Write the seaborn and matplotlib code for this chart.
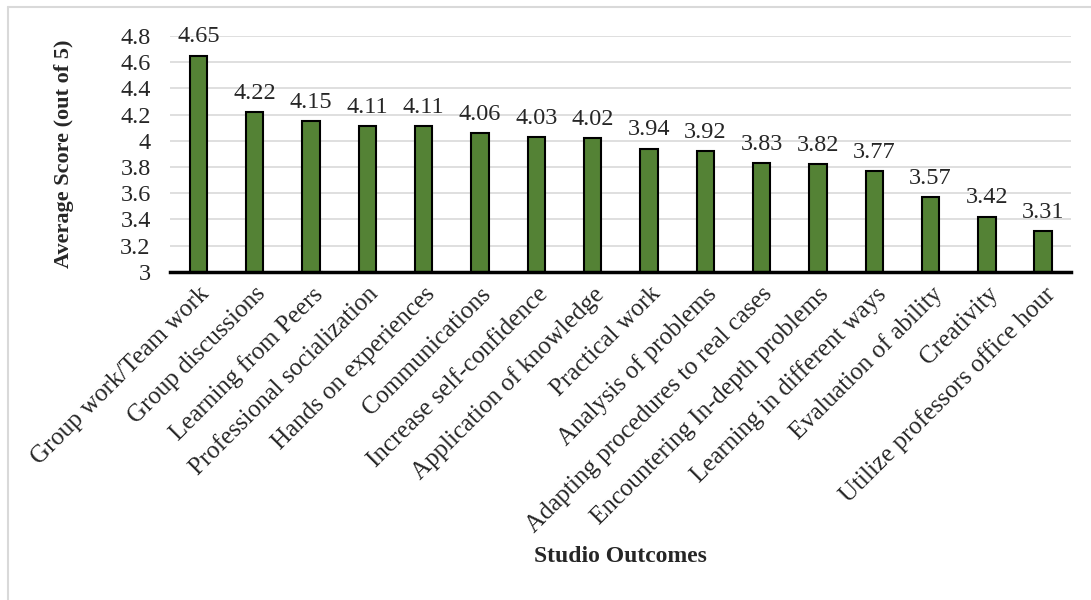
import matplotlib
matplotlib.use('Agg')
import matplotlib.pyplot as plt
import seaborn as sns
import pandas as pd

outcomes = ['Group work/Team work', 'Group discussions', 'Learning from Peers',
            'Professional socialization', 'Hands on experiences', 'Communications',
            'Increase self-confidence', 'Application of knowledge', 'Practical work',
            'Analysis of problems', 'Adapting procedures to real cases',
            'Encountering In-depth problems', 'Learning in different ways',
            'Evaluation of ability', 'Creativity', 'Utilize professors office hour']
scores = [4.65, 4.22, 4.15, 4.11, 4.11, 4.06, 4.03, 4.02, 3.94, 3.92, 3.83, 3.82,
          3.77, 3.57, 3.42, 3.31]
yticks = [3, 3.2, 3.4, 3.6, 3.8, 4, 4.2, 4.4, 4.6, 4.8]
ytick_labels = ['3', '3.2', '3.4', '3.6', '3.8', '4', '4.2', '4.4', '4.6', '4.8']

df = pd.DataFrame({'Outcome': outcomes, 'Score': scores})

sns.set_style('white')
plt.rcParams['font.family'] = ['Liberation Serif', 'DejaVu Serif']

fig = plt.figure(figsize=(10.91, 6), dpi=100)
ax = fig.add_axes([0.156, 0.547, 0.826, 0.393])

sns.barplot(data=df, x='Outcome', y='Score', color='#548235', width=0.31,
            edgecolor='black', linewidth=1.5, saturation=1, ax=ax, zorder=3)

ax.set_ylim(3, 4.8)
ax.set_xlim(-0.5, len(outcomes) - 0.5)
ax.set_yticks(yticks)
ax.set_yticklabels(ytick_labels, fontsize=17.5)
ax.yaxis.grid(True, color='#d9d9d9', linewidth=1.2, zorder=0)
ax.tick_params(axis='y', length=0, pad=14)
ax.tick_params(axis='x', length=0, pad=8)
ax.set_xticks(range(len(outcomes)))
ax.set_xticklabels(outcomes, rotation=45, ha='right', rotation_mode='anchor', fontsize=18)

for s in ['top', 'right', 'left']:
    ax.spines[s].set_visible(False)
ax.spines['bottom'].set_color('black')
ax.spines['bottom'].set_linewidth(2.5)
ax.spines['bottom'].set_zorder(4)

for i, v in enumerate(scores):
    ax.annotate(f'{v:.2f}', (i, v), xytext=(0, 6), textcoords='offset points',
                ha='center', va='bottom', fontsize=17.5, annotation_clip=False)

ax.set_ylabel('Average Score (out of 5)', fontsize=16, fontweight='bold', labelpad=33)
ax.set_xlabel('')
fig.text(0.569, 0.072, 'Studio Outcomes', ha='center', va='center', fontsize=17,
         fontweight='bold')

# figure border (top and left visible)
fig.add_artist(plt.Line2D([0.0075, 1.0], [0.988, 0.988], color='#d9d9d9', linewidth=1.5,
                          transform=fig.transFigure))
fig.add_artist(plt.Line2D([0.0075, 0.0075], [0.0, 0.988], color='#d9d9d9', linewidth=1.5,
                          transform=fig.transFigure))

fig.savefig('out.png', dpi=100)
